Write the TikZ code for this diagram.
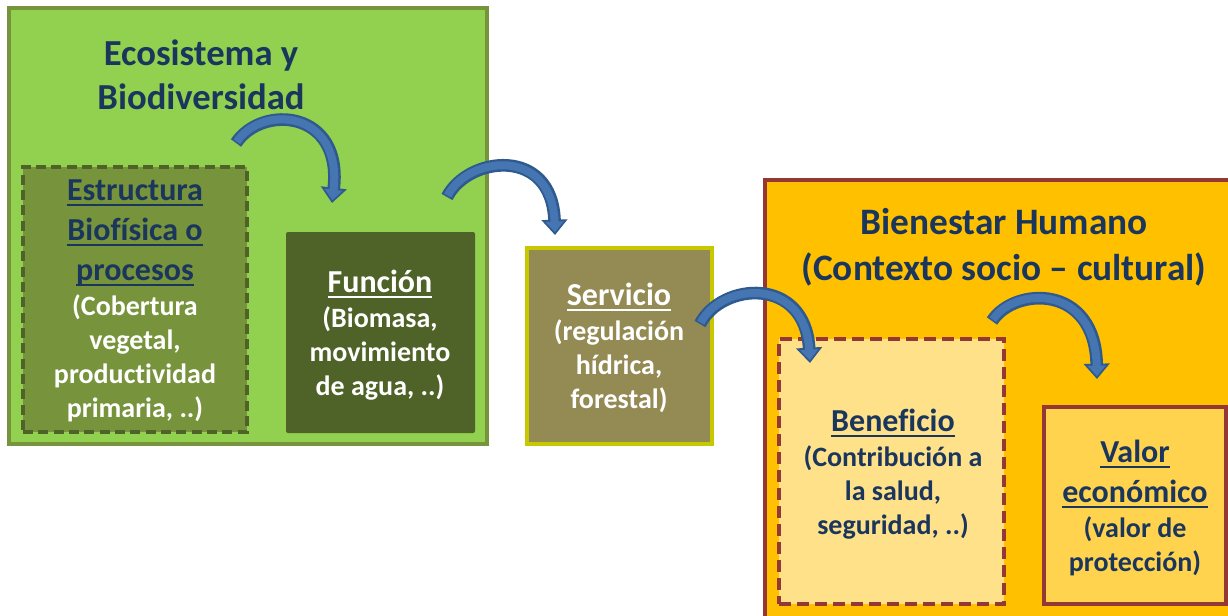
\documentclass[tikz,border=0pt]{standalone}
\usepackage{fontspec}
\setmainfont{Carlito}[Ligatures={NoCommon}]
\usetikzlibrary{fit,arrows.meta}
\definecolor{ecofill}{HTML}{92D050}
\definecolor{ecoline}{HTML}{77933C}
\definecolor{estrfill}{HTML}{77933C}
\definecolor{estrline}{HTML}{4F6228}
\definecolor{funcfill}{HTML}{4F6228}
\definecolor{servfill}{HTML}{948A54}
\definecolor{servline}{HTML}{C8C800}
\definecolor{bienfill}{HTML}{FFC000}
\definecolor{redline}{HTML}{953735}
\definecolor{benefill}{HTML}{FFE18A}
\definecolor{valfill}{HTML}{FFD34D}
\definecolor{navy}{HTML}{1B365D}
\definecolor{arrdark}{HTML}{2F5A8F}
\definecolor{arrlight}{HTML}{4676B2}
\newsavebox\ulbox
\newcommand\ulx[1]{\sbox\ulbox{#1}\rlap{\rule[-4.2pt]{\wd\ulbox}{1.6pt}}\usebox\ulbox}
\newcommand\hd{\fontsize{24}{30}\selectfont}
\tikzset{
  box/.style={inner sep=0pt, outer sep=0pt},
  txt/.style={align=center, inner sep=0pt, font=\bfseries\fontsize{21}{25.5}\selectfont},
  ttl/.style={align=center, inner sep=0pt, text=navy, font=\bfseries\fontsize{27.5}{33}\selectfont},
  arrout/.style={draw=arrdark, line width=9.5pt, -{Triangle[width=19pt,length=11.5pt]}},
  arrin/.style={draw=arrlight, line width=6pt, shorten >=2.2pt, shorten <=1.2pt, -{Triangle[width=13pt,length=7.8pt]}}
}
\begin{document}
\begin{tikzpicture}[x=0.75pt,y=-0.75pt]
\path[use as bounding box, clip] (0,0) rectangle (1228,615);
\fill[white] (0,0) rectangle (1228,615);
% boxes
\node[box, fit={(9,8)(487,444)}, fill=ecofill, draw=ecoline, line width=3pt] (eco) {};
\node[box, fit={(23,167)(247,432)}, fill=estrfill, draw=estrline, line width=2.4pt, dash pattern=on 7.5pt off 4pt] (estr) {};
\node[box, fit={(286,232)(475,433)}, fill=funcfill, rounded corners=1.5pt] (func) {};
\node[box, fit={(527,248)(712,444)}, fill=servfill, draw=servline, line width=3pt] (serv) {};
\node[box, fit={(765,180)(1300,660)}, fill=bienfill, draw=redline, line width=2.4pt] (bien) {};
\node[box, fit={(779,339)(1004,604)}, fill=benefill, draw=redline, line width=2.4pt, dash pattern=on 9pt off 4.5pt] (bene) {};
\node[box, fit={(1044,407)(1226,604)}, fill=valfill, draw=redline, line width=2.4pt] (valor) {};
% titles
\node[ttl] (ecot) at (201,75) {Ecosistema y\\Biodiversidad};
\node[ttl, font=\bfseries\fontsize{28}{34.5}\selectfont] (bient) at (1004,247) {Bienestar Humano\\(Contexto socio – cultural)};
% texts
\node[txt, text=navy] (estrt) at (135,301) {{\hd\ulx{Estructura}}\\[4.5pt]{\hd\ulx{Biofísica o}}\\[4.5pt]{\hd\ulx{procesos}}\\[0.8pt]\textcolor{white}{(Cobertura}\\\textcolor{white}{vegetal,}\\\textcolor{white}{productividad}\\\textcolor{white}{primaria, ..)}};
\node[txt, text=white] (funct) at (380,335) {{\hd\ulx{Función}}\\[0.8pt](Biomasa,\\movimiento\\de agua, ..)};
\node[txt, text=white] (servt) at (619,348) {{\hd\ulx{Servicio}}\\[0.8pt](regulación\\hídrica,\\forestal)};
\node[txt, text=navy] (benet) at (893,474) {{\hd\ulx{Beneficio}}\\[0.8pt](Contribución a\\la salud,\\seguridad, ..)};
\node[txt, text=navy] (valort) at (1135,508) {{\hd\ulx{Valor}}\\[4.5pt]{\hd\ulx{económico}}\\[0.8pt](valor de\\protección)};
% arrow end points
\coordinate (a1s) at (236,143); \coordinate (a1e) at (332,203);
\coordinate (a2s) at (447,197); \coordinate (a2e) at (555,235);
\coordinate (a3s) at (700,324); \coordinate (a3e) at (810,363);
\coordinate (a4s) at (992,321); \coordinate (a4e) at (1097,379);
\foreach \s in {arrout,arrin}{
\draw[\s] (a1s) .. controls (262,104) and (343,110) .. (a1e);
\draw[\s] (a2s) .. controls (468,156) and (552,146) .. (a2e);
\draw[\s] (a3s) .. controls (722,282) and (805,276) .. (a3e);
\draw[\s] (a4s) .. controls (1014,287) and (1095,283) .. (a4e);
}
\end{tikzpicture}
\end{document}
